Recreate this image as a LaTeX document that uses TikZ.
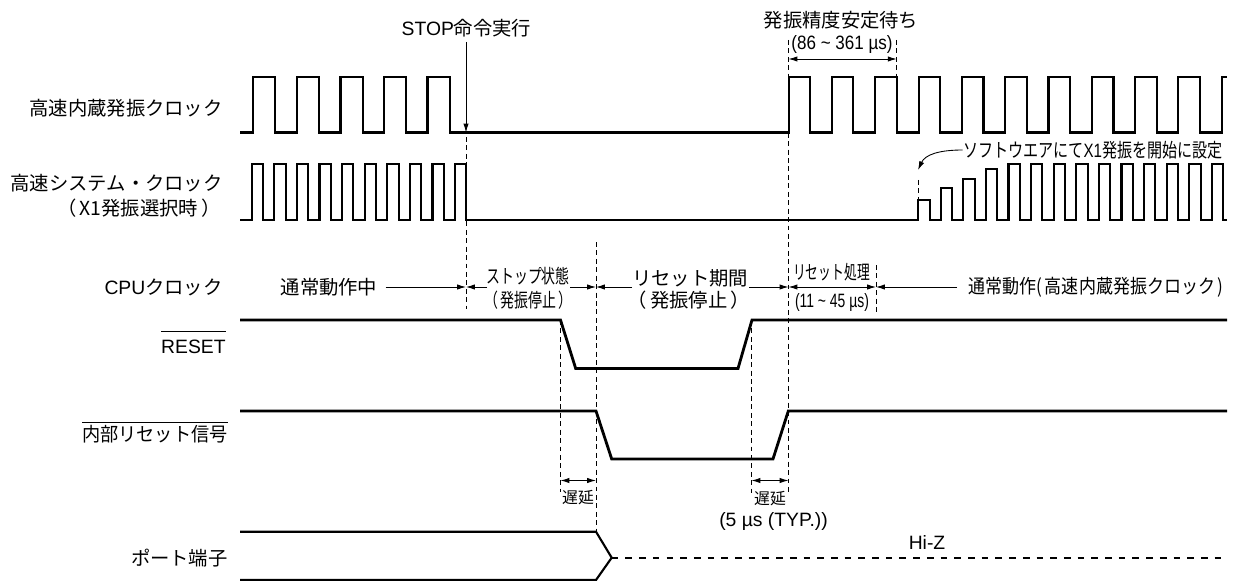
\documentclass[tikz,border=0pt]{standalone}
\usepackage{fontspec}
\setmainfont{Liberation Sans}
\newfontfamily\jp{Noto Sans CJK JP}
\usetikzlibrary{arrows.meta}
\tikzset{
    lab/.style={inner sep=0pt, font=\fontsize{11}{13}\selectfont},
    wave/.style={line width=1.2pt},
    rst/.style={line width=1.6pt},
    guide/.style={line width=0.5pt, dash pattern=on 2.8pt off 2pt},
    dim/.style={line width=0.5pt, >={Latex[length=5pt,width=3pt]}}
}
\newcommand{\narrow}[2]{\scalebox{#1}[1]{#2}}

\begin{document}
\begin{tikzpicture}[x=0.02cm,y=-0.02cm]
        \useasboundingbox (0,0) rectangle (1245,581);
        % clocks
            \draw[wave] (240,132.5) -| (253,77) -| (275,132.5) -| (297,77) -| (319,132.5) -| (340.5,77) -| (363,132.5) -| (384,77) -| (406,132.5) -| (427.5,77) -| (450,132.5) -| (788.7,77)
                -| (810,132.5) -| (832,77) -| (853.3,132.5) -| (875.3,77) -| (896.7,132.5) -| (918.6,77) -| (940,132.5) -| (961.9,77) -| (983.5,132.5) -| (1005.2,77) -| (1026.8,132.5)
                -| (1048.5,77) -| (1070.2,132.5) -| (1091.8,77) -| (1113.5,132.5) -| (1135.1,77) -| (1156.8,132.5) -| (1178.4,77) -| (1200,132.5) -| (1221.7,77) -- (1227,77);
            \draw[wave] (240,220) -| (251.7,164.3) -| (263,220) -| (274.3,164.3) -| (285.6,220) -| (296.9,164.3) -| (308.2,220) -| (319.5,164.3) -| (330.8,220) -| (342.1,164.3) -| (353.4,220)
                -| (364.7,164.3) -| (376,220) -| (387.3,164.3) -| (398.6,220) -| (409.9,164.3) -| (421.2,220) -| (432.5,164.3) -| (443.8,220) -| (455.1,164.3) -| (466.4,220)
                -| (918,200.3) -| (930,220) -| (941,188.3) -| (952,220) -| (963,179) -| (975,220) -| (986,169) -| (997,220) -| (1008.5,164.3) -| (1019.8,220) -| (1031.1,164.3) -| (1042.4,220)
                -| (1053.7,164.3) -| (1065,220) -| (1076.3,164.3) -| (1087.6,220) -| (1098.9,164.3) -| (1110.2,220) -| (1121.5,164.3) -| (1132.8,220) -| (1144.1,164.3) -| (1155.4,220)
                -| (1166.7,164.3) -| (1178,220) -| (1189.3,164.3) -| (1200.6,220) -| (1211.9,164.3) -| (1223.2,220) -- (1227,220);
        % signals
            \draw[rst] (240,320) -- (560.5,320) -- (575.7,368.5) -- (738,368.5) -- (752,320) -- (1227,320);
            \draw[rst] (240,411) -- (596,411) -- (611.7,459) -- (773,459) -- (788.3,411) -- (1227,411);
            \draw[wave] (240,531.7) -- (596,531.7) -- (611.7,557.7) -- (596,580) -- (240,580);
            \draw[wave, dash pattern=on 3.8pt off 4pt] (611.7,557.7) -- (1227,557.7);
        % dashed guides
            \draw[guide] (466,137) -- (466,309);
            \draw[guide] (596,242) -- (596,531);
            \draw[guide] (560.5,320) -- (560.5,492);
            \draw[guide] (751.5,320) -- (751.5,493);
            \draw[guide] (788.5,40) -- (788.5,493);
            \draw[guide] (896.7,40) -- (896.7,77);
            \draw[guide] (876,265) -- (876,312);
            \draw[guide] (918,180) -- (918,200);
        % top nodes
            \node[lab] (stoptxt) at (466.5,28) {STOP{\jp 命令実行}};
            \node[lab] (waittxt) at (841,20) {\jp 発振精度安定待ち};
            \node[lab] (waittime) at (842,45) {\narrow{0.88}{(86 \~{} 361 µs)}};
            \coordinate (stoptip) at (466,132.5);
            \coordinate (waitl) at (788.5,59);
            \coordinate (waitr) at (896.7,59);
            \draw[dim,->] (466,42) -- (stoptip);
            \draw[dim,<->] (waitl) -- (waitr);
        % software note
            \node[lab, anchor=east] (x1txt) at (1223,150) {\narrow{0.78}{{\jp ソフトウエアにて}X1{\jp 発振を開始に設定}}};
            \coordinate (x1tip) at (918,170);
            \draw[dim,->] (x1txt.west) .. controls (938,150) and (925,155) .. (x1tip);
        % left nodes
            \node[lab, anchor=east] (hocotxt) at (223,108) {\jp 高速内蔵発振クロック};
            \node[lab, anchor=east] (sysclk) at (223,183) {\jp 高速システム・クロック};
            \node[lab, anchor=east] (x1sel) at (221,208) {\jp （\,X1発振選択時\,）};
            \node[lab, anchor=east] (cpuclk) at (223,287) {CPU{\jp クロック}};
            \node[lab, anchor=base east] (resettxt) at (226,353) {$\overline{\mbox{\rule{0pt}{10.9pt}RESET}}$};
            \node[lab, anchor=east] (inttxt) at (228,432) {$\overline{\mbox{\narrow{0.94}{\jp 内部リセット信号}}}$};
            \node[lab, anchor=east] (porttxt) at (228,558) {\jp ポート端子};
        % state row
            \node[lab] (normal) at (329,287) {\jp 通常動作中};
            \node[lab] (stopst) at (528,276.5) {\narrow{0.72}{\jp ストップ状態}};
            \node[lab] (stopos) at (528.5,300) {\narrow{0.72}{\jp （\,発振停止\,）}};
            \node[lab] (rstst) at (690,278) {\jp リセット期間};
            \node[lab] (rstos) at (689,300) {\jp （\,発振停止\,）};
            \node[lab] (rsthd) at (831.5,272.5) {\narrow{0.66}{\jp リセット処理}};
            \node[lab] (rsttime) at (832,303) {\narrow{0.72}{(11 \~{} 45 µs)}};
            \node[lab, anchor=east] (normalb) at (1224,287) {\narrow{0.88}{\jp 通常動作(\,高速内蔵発振クロック\,)}};
            \coordinate (t0) at (466,287);
            \coordinate (t1) at (596,287);
            \coordinate (t2) at (788.5,287);
            \coordinate (t3) at (876,287);
            \coordinate (s1) at (570,287);
            \coordinate (s2) at (632,287);
            \coordinate (s3) at (749,287);
            \coordinate (s0) at (487,287);
            \draw[dim,->] (normal.east)++(8,0) -- (t0);
            \draw[dim,->] (s0) -- (t0);
            \draw[dim,->] (s1) -- (t1);
            \draw[dim,->] (s2) -- (t1);
            \draw[dim,->] (s3) -- (t2);
            \draw[dim,<->] (t2) -- (t3);
            \draw[dim,->] (normalb.west)++(-11,0) -- (t3);
        % delays
            \coordinate (d0) at (560.5,480.5);
            \coordinate (d1) at (596,480.5);
            \coordinate (d2) at (751.5,480.5);
            \coordinate (d3) at (788.5,480.5);
            \draw[dim,<->] (d0) -- (d1);
            \draw[dim,<->] (d2) -- (d3);
            \node[lab, font=\fontsize{9}{11}\selectfont] (delaya) at (578,498) {\jp 遅延};
            \node[lab, font=\fontsize{9}{11}\selectfont] (delayb) at (770,499) {\jp 遅延};
            \node[lab] (delaytime) at (773.5,522) {(5 µs (TYP.))};
            \node[lab] (hiz) at (927,542) {Hi-Z};
    \end{tikzpicture}
\end{document}
